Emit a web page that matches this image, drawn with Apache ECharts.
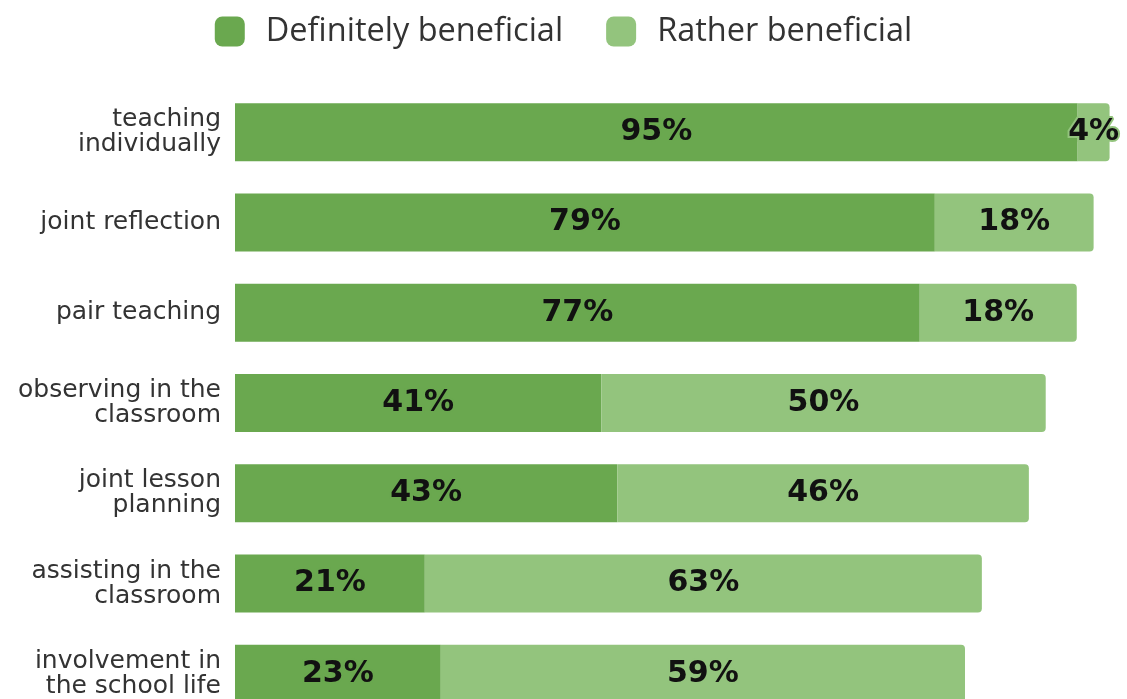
<!DOCTYPE html>
<html><head><meta charset="utf-8">
<script src="https://cdn.jsdelivr.net/npm/echarts@6/dist/echarts.min.js"></script>
<style>html,body{margin:0;padding:0;background:#fff}#c{width:1127px;height:699px}</style>
</head><body><div id="c"></div>
<script>
const categories = ["teaching\nindividually","joint reflection","pair teaching","observing in the\nclassroom","joint lesson\nplanning","assisting in the\nclassroom","involvement in\nthe school life"];
const definitely = [95.0, 78.9, 77.2, 41.3, 43.1, 21.4, 23.2];
const rather = [3.6, 17.9, 17.7, 50.1, 46.4, 62.8, 59.1];
const seriesNames = ["Definitely beneficial","Rather beneficial"];
const colors = ["#6aa84f","#93c47d"];
const VF = "'DejaVu Sans', Verdana, sans-serif";

const chart = echarts.init(document.getElementById('c'), null, {renderer:'canvas'});
function lbl(color){
  return {show:true, position:'inside', formatter:p=>Math.round(p.value)+'%',
    fontFamily:VF, fontWeight:'bold', fontSize:30, color:'#111',
    textBorderColor:color, textBorderWidth:4};
}
chart.setOption({
  animation:false,
  color:colors,
  legend:{top:10, left:'center', itemWidth:30, itemHeight:30, itemGap:43, itemTextGap:5, icon:'roundRect',
    textStyle:{fontFamily:"'Open Sans', sans-serif", fontSize:32.5, color:'#333', padding:[0,0,0,16]},
    data:seriesNames},
  grid:{left:235, right:5, top:87, height:632, containLabel:false, outerBoundsMode:'none'},
  xAxis:{type:'value', min:0, max:100, show:false},
  yAxis:{type:'category', data:categories, inverse:true,
    axisLine:{show:false}, axisTick:{show:false}, splitLine:{show:false},
    axisLabel:{margin:14, fontFamily:VF, fontSize:25, color:'#333', lineHeight:25, align:'right'}},
  series:[
    {name:seriesNames[0], type:'bar', stack:'a', barWidth:58, data:definitely,
      itemStyle:{color:colors[0]}, label:lbl(colors[0])},
    {name:seriesNames[1], type:'bar', stack:'a', barWidth:58, data:rather,
      itemStyle:{color:colors[1], borderRadius:[0,4,4,0]}, label:lbl(colors[1])}
  ]
});
</script></body></html>
